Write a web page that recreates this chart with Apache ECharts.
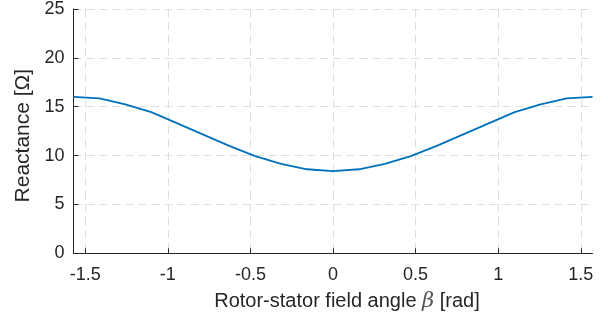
<!DOCTYPE html>
<html>
<head>
<meta charset="utf-8">
<script src="https://cdn.jsdelivr.net/npm/echarts@6/dist/echarts.min.js"></script>
<style>
  html, body { margin: 0; padding: 0; background: #ffffff; }
  #chart { width: 608px; height: 326px; }
</style>
</head>
<body>
<div id="chart"></div>
<script>
// Rotor-stator field angle beta [rad]
const beta = [-1.571, -1.414, -1.257, -1.100, -0.942, -0.785, -0.628, -0.471, -0.314, -0.157, 0.000,
              0.157, 0.314, 0.471, 0.628, 0.785, 0.942, 1.100, 1.257, 1.414, 1.571];
// Reactance [Ohm]
const reactance = [16.0, 15.85, 15.25, 14.45, 13.3, 12.15, 11.0, 9.95, 9.15, 8.6, 8.4,
                   8.6, 9.15, 9.95, 11.0, 12.15, 13.3, 14.45, 15.25, 15.85, 16.0];
// Tick positions
const xTicks = [-1.5, -1, -0.5, 0, 0.5, 1, 1.5];

const FONT = 'Liberation Sans, Arial, Helvetica, sans-serif';
const AXIS_COLOR = '#262626';
const GRID_COLOR = '#dedede';

const chart = echarts.init(document.getElementById('chart'), null, { renderer: 'canvas' });

chart.setOption({
  animation: false,
  backgroundColor: '#ffffff',
  grid: { left: 73.5, right: 15.5, top: 8.7, bottom: 72.7, containLabel: false },
  xAxis: {
    type: 'value',
    min: -Math.PI / 2,
    max: Math.PI / 2,
    name: 'Rotor-stator field angle {b|\u03B2} [rad]',
    nameLocation: 'middle',
    nameGap: 38,
    nameTextStyle: {
      fontFamily: FONT, fontSize: 20, color: AXIS_COLOR,
      padding: [0, 0, 0, 28],
      rich: { b: { fontFamily: 'DejaVu Serif, serif', fontStyle: 'italic', fontSize: 21, color: '#555555' } }
    },
    axisLine: { show: true, onZero: false, lineStyle: { color: AXIS_COLOR, width: 1 } },
    axisTick: { show: true, inside: true, length: 5, customValues: xTicks, lineStyle: { color: AXIS_COLOR } },
    axisLabel: {
      customValues: xTicks,
      margin: 13,
      fontFamily: FONT, fontSize: 18, color: AXIS_COLOR,
      formatter: v => String(v)
    },
    splitLine: { show: true, lineStyle: { color: GRID_COLOR, type: [8, 5], width: 1 } }
  },
  yAxis: {
    type: 'value',
    min: 0,
    max: 25,
    interval: 5,
    name: 'Reactance [\u03A9]',
    nameLocation: 'middle',
    nameGap: 34,
    nameTextStyle: { fontFamily: FONT, fontSize: 21, color: AXIS_COLOR, padding: [0, 9, 0, 0] },
    axisLine: { show: true, onZero: false, lineStyle: { color: AXIS_COLOR, width: 1 } },
    axisTick: { show: true, inside: true, length: 5, lineStyle: { color: AXIS_COLOR } },
    axisLabel: { margin: 9, fontFamily: FONT, fontSize: 18, color: AXIS_COLOR },
    splitLine: { show: true, lineStyle: { color: GRID_COLOR, type: [8, 5], width: 1 } }
  },
  series: [{
    type: 'line',
    data: beta.map((b, i) => [b, reactance[i]]),
    showSymbol: false,
    smooth: false,
    lineStyle: { color: '#0072BD', width: 1.8 },
    itemStyle: { color: '#0072BD' }
  }]
});
</script>
</body>
</html>
